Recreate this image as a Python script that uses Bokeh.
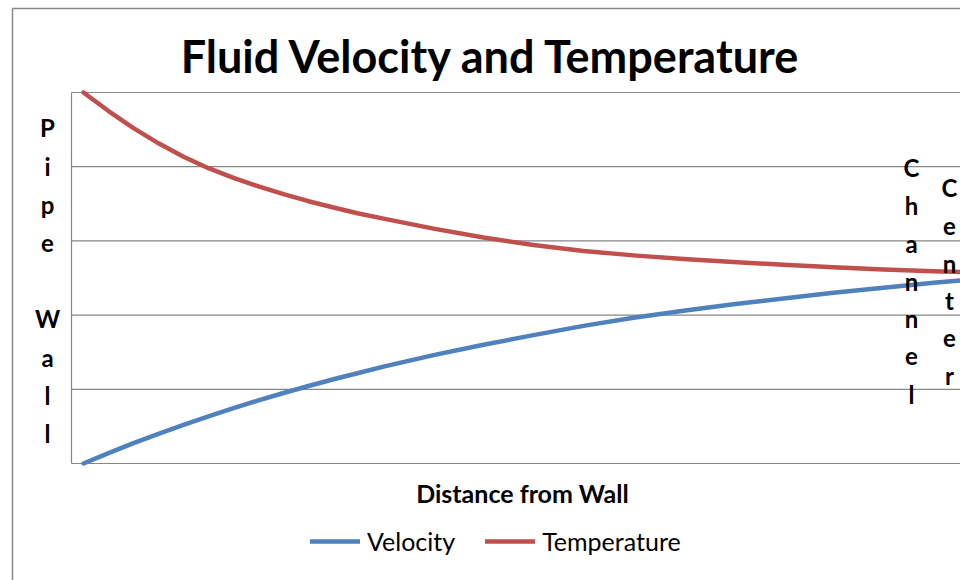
from bokeh.plotting import figure
from bokeh.models import Range1d, Label, Legend, LegendItem
from bokeh.embed import file_html
from bokeh.resources import INLINE

# Distance from the pipe wall (arbitrary units) and the two profiles
distance = [0.0, 0.25, 0.5, 0.75, 1.0, 1.25, 1.5, 1.75, 2.0, 2.25, 2.5,
            2.75, 3.0, 3.5, 4.0, 4.5, 5.0, 5.5, 6.0, 6.5, 7.0, 7.5, 8.0,
            8.5, 9.0]
velocity = [0.00, 0.14, 0.275, 0.40, 0.52, 0.635, 0.745, 0.85, 0.95, 1.045,
            1.135, 1.22, 1.305, 1.46, 1.60, 1.73, 1.855, 1.965, 2.06, 2.145,
            2.225, 2.30, 2.37, 2.435, 2.495]
temperature = [5.00, 4.75, 4.52, 4.315, 4.135, 3.98, 3.85, 3.735, 3.63,
               3.535, 3.45, 3.37, 3.30, 3.165, 3.045, 2.945, 2.865, 2.805,
               2.755, 2.715, 2.68, 2.645, 2.615, 2.59, 2.57]
series_names = ["Velocity", "Temperature"]
series_colors = ["#4F81BD", "#C0504D"]
grid_levels = [0, 1, 2, 3, 4, 5]

title_text = "Fluid Velocity and Temperature"
x_title = "Distance from Wall"
left_title = "Pipe Wall"
right_title = ["Channel", "Center"]

W, H = 960, 580
# plot area in canvas pixels and its data extent
AREA_LEFT, AREA_TOP, AREA_BOTTOM = 71, 92, 463
X0_PX = 83            # where distance 0 sits
PX_PER_X = 100.0
Y_MIN, Y_MAX = grid_levels[0], grid_levels[-1]
PX_PER_Y = (AREA_BOTTOM - AREA_TOP) / (Y_MAX - Y_MIN)


def dx(px):
    return (px - X0_PX) / PX_PER_X


def dy(py):
    return Y_MIN + (AREA_BOTTOM - py) / PX_PER_Y


# the frame covers the whole canvas so every text stays inside it
p = figure(width=W, height=H, output_backend="svg", toolbar_location=None,
           x_range=Range1d(dx(0), dx(W)), y_range=Range1d(dy(H), dy(0)),
           min_border=0)
p.axis.visible = False
p.grid.visible = False
p.outline_line_color = None
p.background_fill_color = "white"
p.border_fill_color = "white"

GRAY = "#868686"
x_area_left = dx(AREA_LEFT)
x_far = dx(W + 50)

# outer chart border (left and top edges are the visible ones)
p.line([dx(12), dx(12), x_far], [dy(H + 50), dy(8), dy(8)],
       line_color="#8a8a8a", line_width=1.5)

# horizontal gridlines and the vertical axis line of the plot area
p.segment(x0=[x_area_left] * len(grid_levels), y0=grid_levels,
          x1=[x_far] * len(grid_levels), y1=grid_levels,
          line_color=GRAY, line_width=1.2)
p.segment(x0=[x_area_left], y0=[Y_MIN], x1=[x_area_left], y1=[Y_MAX],
          line_color=GRAY, line_width=1.2)

r_vel = p.line(distance, velocity, line_color=series_colors[0],
               line_width=4.5, line_cap="round", line_join="round")
r_tmp = p.line(distance, temperature, line_color=series_colors[1],
               line_width=4.5, line_cap="round", line_join="round")

FONT = "Lato"


def text_at(txt, cx, base_px, size, bold=True):
    # base_px is the wanted baseline; shift for how the renderer places it
    p.add_layout(Label(x=dx(cx), y=dy(base_px - 0.4 * size), text=txt,
                       text_font=FONT,
                       text_font_style="bold" if bold else "normal",
                       text_font_size=f"{size}px", text_align="center",
                       text_baseline="alphabetic", text_color="black"))


text_at(title_text, 491, 73, 45)
text_at(x_title, 522, 502, 25)


def stacked(word, cx, base0, step):
    for i, ch in enumerate(word):
        if ch != " ":
            text_at(ch, cx, base0 + i * step, 24)


stacked(left_title, 47, 137, 38.2)
stacked(right_title[0], 911, 177, 37.7)
stacked(right_title[1], 949, 197, 37.6)

legend = Legend(items=[LegendItem(label=series_names[0], renderers=[r_vel]),
                       LegendItem(label=series_names[1], renderers=[r_tmp])],
                orientation="horizontal", location=(310, H - 556),
                glyph_width=50, glyph_height=20, label_height=20,
                label_standoff=7, spacing=30, padding=0, margin=0,
                border_line_color=None, background_fill_alpha=0,
                label_text_font=FONT, label_text_font_size="25px",
                label_text_color="black")
p.add_layout(legend)

open("out.html", "w").write(file_html(p, INLINE))
